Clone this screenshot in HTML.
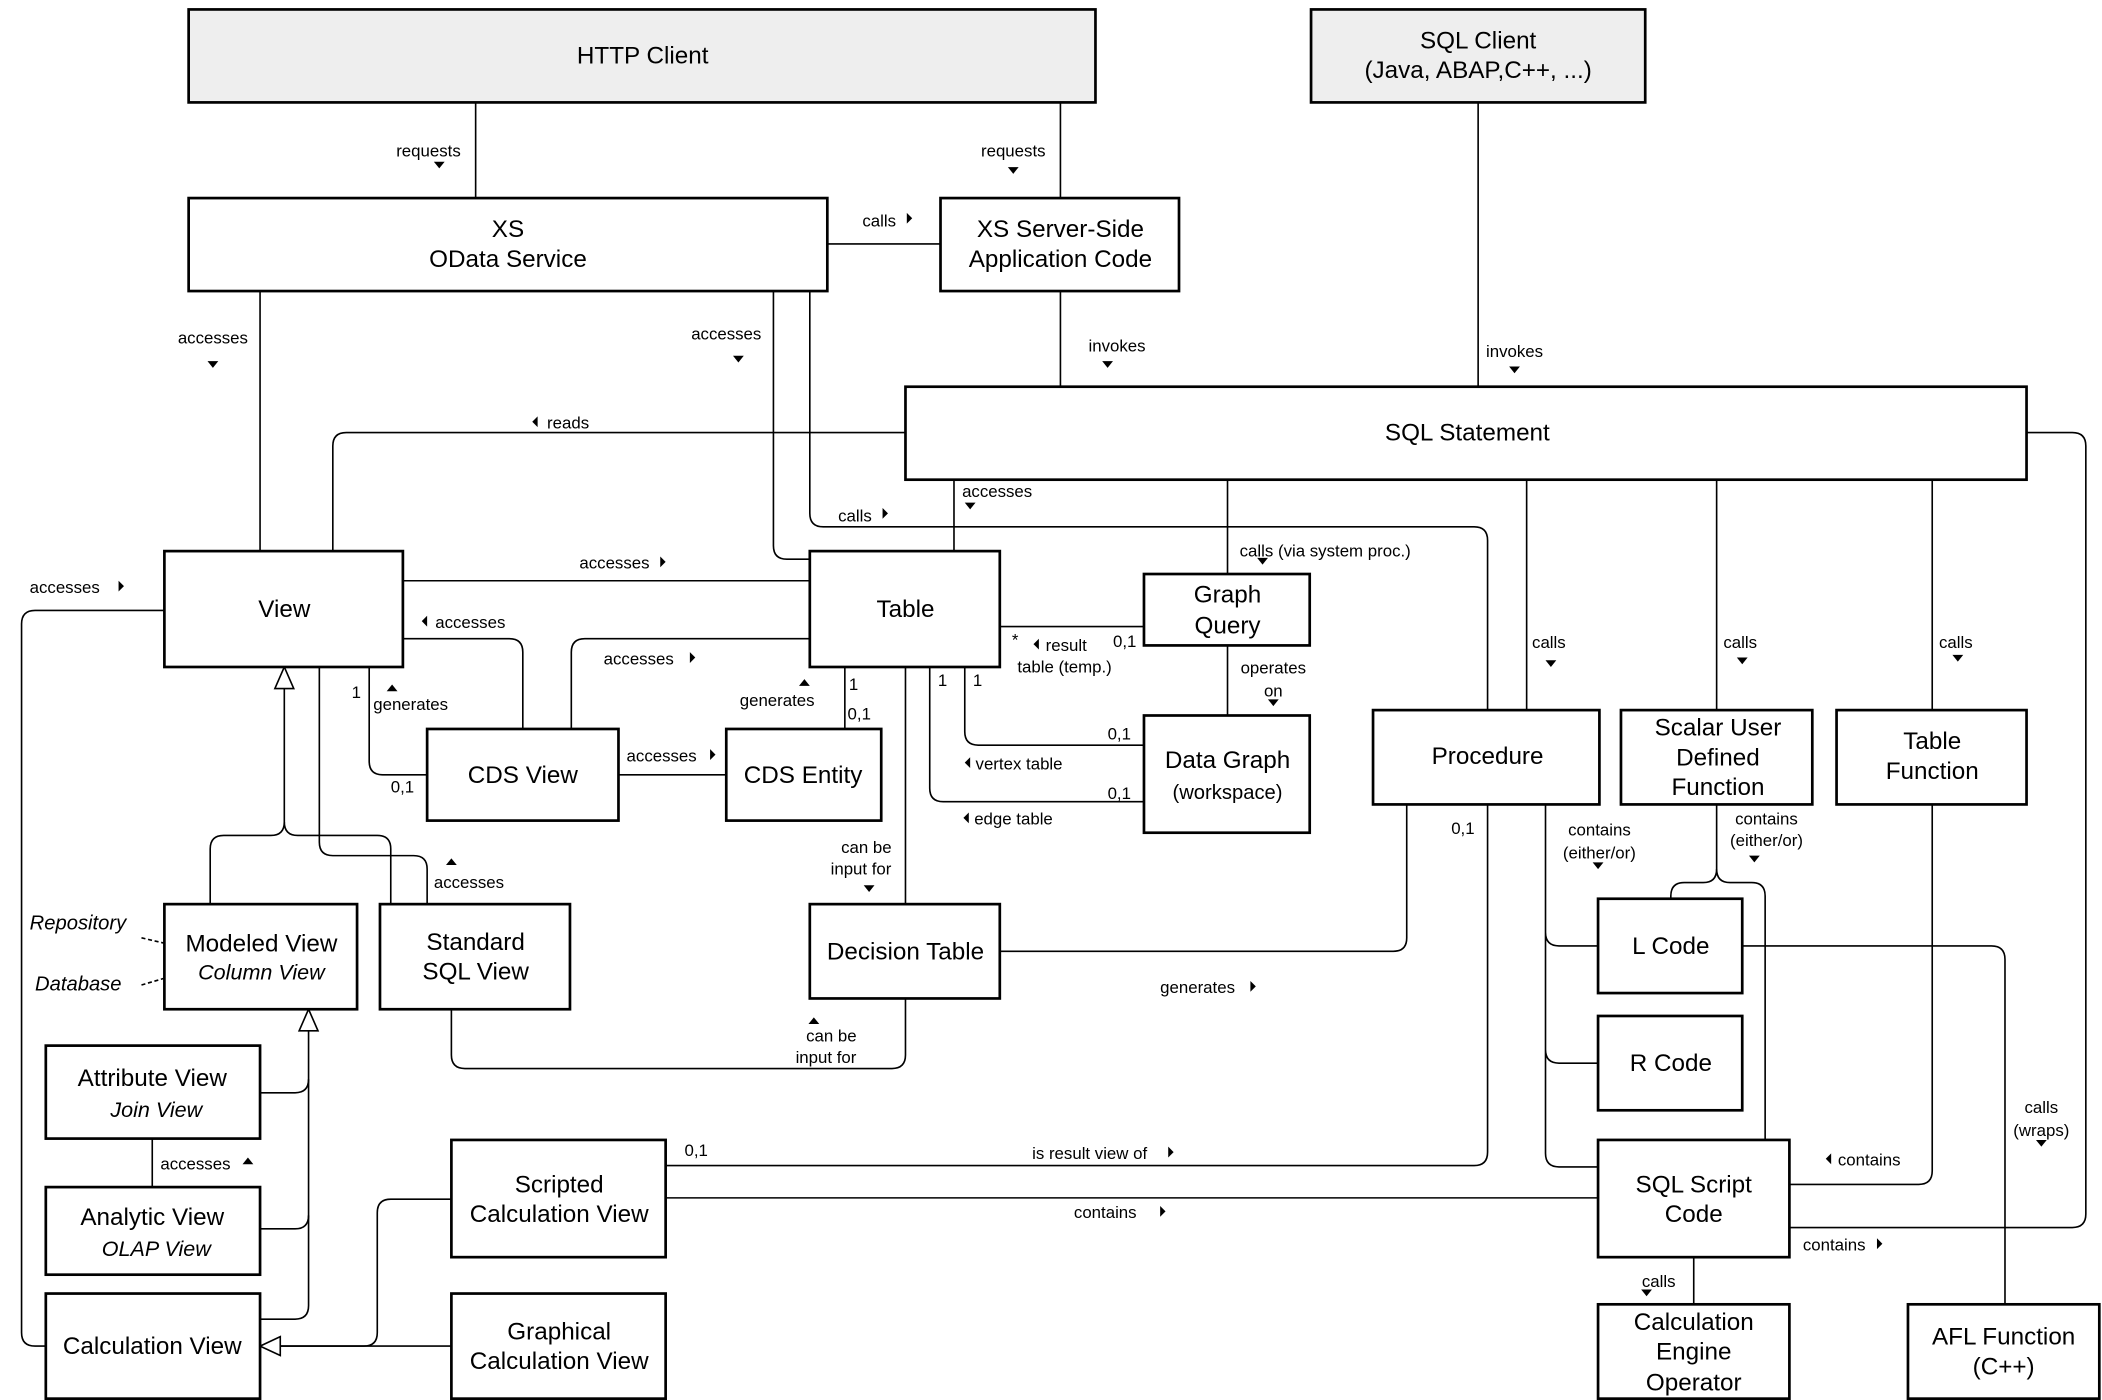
<!DOCTYPE html>
<html><head><meta charset="utf-8"><style>
html,body{margin:0;padding:0;background:#fff;}
svg{display:block;}
text{font-family:"Liberation Sans",sans-serif;fill:#000;}
.b{font-size:18px;text-anchor:middle;}
.l{font-size:12.5px;}
.c{text-anchor:middle;}
</style></head><body>
<svg width="2102" height="1400" viewBox="0 0 1560 1039" xmlns="http://www.w3.org/2000/svg">
<g fill="none" stroke="#000" stroke-width="1.2">
<!-- top connectors -->
<path d="M353 76V147M787 76V147M614 181H698M787 216V287M1097 76V287"/>
<path d="M193 216V409"/>
<path d="M574 216V405Q574 415 584 415H601"/>
<path d="M601 216V381Q601 391 611 391H1094Q1104 391 1104 401V527"/>
<path d="M672 321H257Q247 321 247 331V409"/>
<path d="M708 356V409M911 356V426M1133 356V527M1274 356V527M1434 356V527"/>
<path d="M1504 321H1538Q1548 321 1548 331V901Q1548 911 1538 911H1328"/>
<path d="M299 431H601"/>
<path d="M299 474H378Q388 474 388 484V541"/>
<path d="M424 541V484Q424 474 434 474H601"/>
<path d="M274 495V565Q274 575 284 575H317"/>
<path d="M459 575H539M627 495V541M742 465H849M911 479V531"/>
<path d="M716 495V543Q716 553 726 553H849"/>
<path d="M690 495V585Q690 595 700 595H849"/>
<path d="M672 495V671"/>
<path d="M672 741V783Q672 793 662 793H345Q335 793 335 783V749"/>
<path d="M237 495V625Q237 635 247 635H307Q317 635 317 645V671"/>
<path d="M211 511V610Q211 620 201 620H166Q156 620 156 630V671"/>
<path d="M211 610Q211 620 221 620H280Q290 620 290 630V671"/>
<path d="M229 765V969Q229 979 219 979H193"/>
<path d="M193 811H219Q229 811 229 801M193 912H219Q229 912 229 902"/>
<path d="M113 845V881"/>
<path d="M122 453H26Q16 453 16 463V989Q16 999 26 999H34"/>
<path d="M335 890H290Q280 890 280 900V989Q280 999 270 999H208"/>
<path d="M335 999H208"/>
<path d="M494 865H1094Q1104 865 1104 855V597"/>
<path d="M494 889H1186"/>
<path d="M1044 597V696Q1044 706 1034 706H742"/>
<path d="M1147 597V692Q1147 702 1157 702H1186M1147 692V779Q1147 789 1157 789H1186M1147 779V856Q1147 866 1157 866H1186"/>
<path d="M1274 597V645Q1274 655 1264 655H1250Q1240 655 1240 665V667"/>
<path d="M1274 645Q1274 655 1284 655H1300Q1310 655 1310 665V846"/>
<path d="M1434 597V869Q1434 879 1424 879H1328"/>
<path d="M1293 702H1478Q1488 702 1488 712V968"/>
<path d="M1257 933V968"/>
<path d="M105 696L122 700M105 731L122 726" stroke-dasharray="3,2"/>
</g>
<!-- generalization triangles -->
<g fill="#fff" stroke="#000" stroke-width="1.2">
<polygon points="211,495 204,511 218,511"/>
<polygon points="229,749 222,765 236,765"/>
<polygon points="193,999 208,992 208,1006"/>
</g>
<!-- boxes -->
<g stroke="#000" stroke-width="2">
<rect x="140" y="7" width="673" height="69" fill="#eee"/>
<rect x="973" y="7" width="248" height="69" fill="#eee"/>
<g fill="#fff">
<rect x="140" y="147" width="474" height="69"/>
<rect x="698" y="147" width="177" height="69"/>
<rect x="672" y="287" width="832" height="69"/>
<rect x="122" y="409" width="177" height="86"/>
<rect x="601" y="409" width="141" height="86"/>
<rect x="849" y="426" width="123" height="53"/>
<rect x="317" y="541" width="142" height="68"/>
<rect x="539" y="541" width="115" height="68"/>
<rect x="849" y="531" width="123" height="87"/>
<rect x="1019" y="527" width="168" height="70"/>
<rect x="1203" y="527" width="142" height="70"/>
<rect x="1363" y="527" width="141" height="70"/>
<rect x="122" y="671" width="143" height="78"/>
<rect x="282" y="671" width="141" height="78"/>
<rect x="601" y="671" width="141" height="70"/>
<rect x="1186" y="667" width="107" height="70"/>
<rect x="1186" y="754" width="107" height="70"/>
<rect x="34" y="776" width="159" height="69"/>
<rect x="34" y="881" width="159" height="65"/>
<rect x="34" y="960" width="159" height="78"/>
<rect x="335" y="846" width="159" height="87"/>
<rect x="335" y="960" width="159" height="78"/>
<rect x="1186" y="846" width="142" height="87"/>
<rect x="1186" y="968" width="142" height="70"/>
<rect x="1416" y="968" width="142" height="70"/>
</g></g>
<!-- box texts -->
<g class="b">
<text x="477" y="47" class="b">HTTP Client</text>
<text x="1097" y="36" class="b">SQL Client</text>
<text x="1097" y="58" class="b">(Java, ABAP,C++, ...)</text>
<text x="377" y="176" class="b">XS</text>
<text x="377" y="198" class="b">OData Service</text>
<text x="787" y="176" class="b">XS Server-Side</text>
<text x="787" y="198" class="b">Application Code</text>
<text x="1089" y="327" class="b">SQL Statement</text>
<text x="211" y="458" class="b">View</text>
<text x="672" y="458" class="b">Table</text>
<text x="911" y="447" class="b">Graph</text>
<text x="911" y="470" class="b">Query</text>
<text x="388" y="581" class="b">CDS View</text>
<text x="596" y="581" class="b">CDS Entity</text>
<text x="911" y="570" class="b">Data Graph</text>
<text x="911" y="593" class="b" style="font-size:15px">(workspace)</text>
<text x="1104" y="567" class="b">Procedure</text>
<text x="1275" y="546" class="b">Scalar User</text>
<text x="1275" y="568" class="b">Defined</text>
<text x="1275" y="590" class="b">Function</text>
<text x="1434" y="556" class="b">Table</text>
<text x="1434" y="578" class="b">Function</text>
<text x="194" y="706" class="b">Modeled View</text>
<text x="194" y="727" class="b" font-style="italic" style="font-size:16px">Column View</text>
<text x="353" y="705" class="b">Standard</text>
<text x="353" y="727" class="b">SQL View</text>
<text x="672" y="712" class="b">Decision Table</text>
<text x="1240" y="708" class="b">L Code</text>
<text x="1240" y="795" class="b">R Code</text>
<text x="113" y="806" class="b">Attribute View</text>
<text x="116" y="829" class="b" font-style="italic" style="font-size:16px">Join View</text>
<text x="113" y="909" class="b">Analytic View</text>
<text x="116" y="932" class="b" font-style="italic" style="font-size:16px">OLAP View</text>
<text x="113" y="1005" class="b">Calculation View</text>
<text x="415" y="885" class="b">Scripted</text>
<text x="415" y="907" class="b">Calculation View</text>
<text x="415" y="994" class="b">Graphical</text>
<text x="415" y="1016" class="b">Calculation View</text>
<text x="1257" y="885" class="b">SQL Script</text>
<text x="1257" y="907" class="b">Code</text>
<text x="1257" y="987" class="b">Calculation</text>
<text x="1257" y="1009" class="b">Engine</text>
<text x="1257" y="1032" class="b">Operator</text>
<text x="1487" y="998" class="b">AFL Function</text>
<text x="1487" y="1020" class="b">(C++)</text>
</g>
<text x="22" y="690" font-style="italic" style="font-size:15px">Repository</text>
<text x="26" y="735" font-style="italic" style="font-size:15px">Database</text>
<!-- labels -->
<g class="l">
<text x="318" y="116" class="l c">requests</text>
<text x="752" y="116" class="l c">requests</text>
<text x="640" y="168" class="l">calls</text>
<text x="829" y="261" class="l c">invokes</text>
<text x="1124" y="265" class="l c">invokes</text>
<text x="158" y="255" class="l c">accesses</text>
<text x="539" y="252" class="l c">accesses</text>
<text x="406" y="318" class="l">reads</text>
<text x="622" y="387" class="l">calls</text>
<text x="714" y="369" class="l">accesses</text>
<text x="920" y="413" class="l">calls (via system proc.)</text>
<text x="1137" y="481" class="l">calls</text>
<text x="1279" y="481" class="l">calls</text>
<text x="1439" y="481" class="l">calls</text>
<text x="22" y="440" class="l">accesses</text>
<text x="430" y="422" class="l">accesses</text>
<text x="323" y="466" class="l">accesses</text>
<text x="448" y="493" class="l">accesses</text>
<text x="261" y="518" class="l">1</text>
<text x="277" y="527" class="l">generates</text>
<text x="290" y="588" class="l">0,1</text>
<text x="465" y="565" class="l">accesses</text>
<text x="549" y="524" class="l">generates</text>
<text x="630" y="512" class="l">1</text>
<text x="629" y="534" class="l">0,1</text>
<text x="751" y="479" class="l">*</text>
<text x="776" y="483" class="l">result</text>
<text x="755" y="499" class="l">table (temp.)</text>
<text x="826" y="480" class="l">0,1</text>
<text x="945" y="500" class="l c">operates</text>
<text x="945" y="517" class="l c">on</text>
<text x="696" y="509" class="l">1</text>
<text x="722" y="509" class="l">1</text>
<text x="822" y="549" class="l">0,1</text>
<text x="822" y="593" class="l">0,1</text>
<text x="724" y="571" class="l">vertex table</text>
<text x="723" y="612" class="l">edge table</text>
<text x="643" y="633" class="l c">can be</text>
<text x="639" y="649" class="l c">input for</text>
<text x="617" y="773" class="l c">can be</text>
<text x="613" y="789" class="l c">input for</text>
<text x="322" y="659" class="l">accesses</text>
<text x="119" y="868" class="l">accesses</text>
<text x="508" y="858" class="l">0,1</text>
<text x="766" y="860" class="l">is result view of</text>
<text x="1077" y="619" class="l">0,1</text>
<text x="797" y="904" class="l">contains</text>
<text x="861" y="737" class="l">generates</text>
<text x="1187" y="620" class="l c">contains</text>
<text x="1187" y="637" class="l c">(either/or)</text>
<text x="1311" y="612" class="l c">contains</text>
<text x="1311" y="628" class="l c">(either/or)</text>
<text x="1364" y="865" class="l">contains</text>
<text x="1338" y="928" class="l">contains</text>
<text x="1515" y="826" class="l c">calls</text>
<text x="1515" y="843" class="l c">(wraps)</text>
<text x="1231" y="955" class="l c">calls</text>
</g>
<!-- small arrowheads -->
<g fill="#000">
<!-- down -->
<polygon points="322,120 330,120 326,125"/>
<polygon points="748,124 756,124 752,129"/>
<polygon points="818,268 826,268 822,273"/>
<polygon points="1120,272 1128,272 1124,277"/>
<polygon points="154,268 162,268 158,273"/>
<polygon points="544,264 552,264 548,269"/>
<polygon points="716,373 724,373 720,378"/>
<polygon points="933,414 941,414 937,419"/>
<polygon points="1147,490 1155,490 1151,495"/>
<polygon points="1289,488 1297,488 1293,493"/>
<polygon points="1449,486 1457,486 1453,491"/>
<polygon points="941,519 949,519 945,524"/>
<polygon points="641,657 649,657 645,662"/>
<polygon points="1182,640 1190,640 1186,645"/>
<polygon points="1298,635 1306,635 1302,640"/>
<polygon points="1511,846 1519,846 1515,851"/>
<polygon points="1218,957 1226,957 1222,962"/>
<!-- up -->
<polygon points="287,513 295,513 291,508"/>
<polygon points="593,509 601,509 597,504"/>
<polygon points="331,642 339,642 335,637"/>
<polygon points="600,760 608,760 604,755"/>
<polygon points="180,864 188,864 184,859"/>
<!-- right -->
<polygon points="673,158 673,166 677,162"/>
<polygon points="655,377 655,385 659,381"/>
<polygon points="88,431 88,439 92,435"/>
<polygon points="490,413 490,421 494,417"/>
<polygon points="512,484 512,492 516,488"/>
<polygon points="527,556 527,564 531,560"/>
<polygon points="867,851 867,859 871,855"/>
<polygon points="861,895 861,903 865,899"/>
<polygon points="928,728 928,736 932,732"/>
<polygon points="1393,919 1393,927 1397,923"/>
<!-- left -->
<polygon points="399,309 399,317 395,313"/>
<polygon points="317,457 317,465 313,461"/>
<polygon points="771,474 771,482 767,478"/>
<polygon points="720,562 720,570 716,566"/>
<polygon points="719,603 719,611 715,607"/>
<polygon points="1359,856 1359,864 1355,860"/>
</g>
</svg>
</body></html>
